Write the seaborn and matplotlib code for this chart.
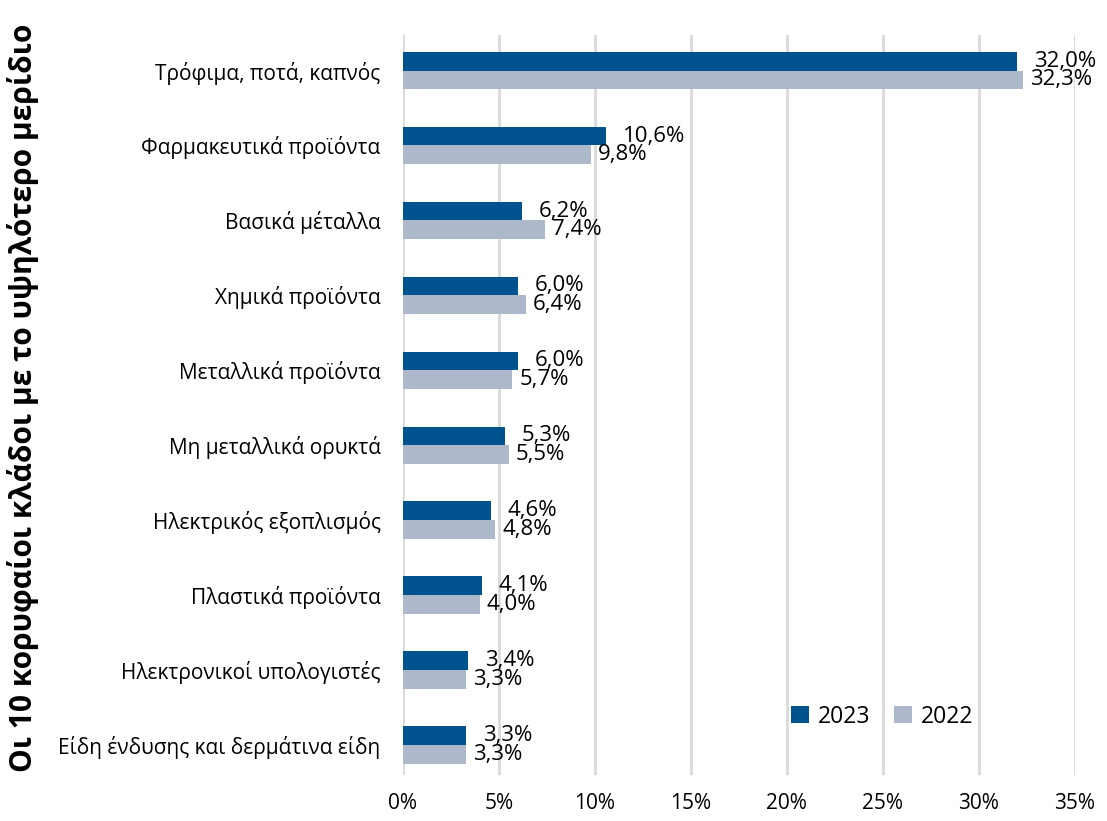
import pandas as pd
import numpy as np
import matplotlib
matplotlib.use("Agg")
import matplotlib.pyplot as plt
import seaborn as sns

categories = [
    "Τρόφιμα, ποτά, καπνός",
    "Φαρμακευτικά προϊόντα",
    "Βασικά μέταλλα",
    "Χημικά προϊόντα",
    "Μεταλλικά προϊόντα",
    "Μη μεταλλικά ορυκτά",
    "Ηλεκτρικός εξοπλισμός",
    "Πλαστικά προϊόντα",
    "Ηλεκτρονικοί υπολογιστές",
    "Είδη ένδυσης και δερμάτινα είδη",
]
share_2023 = [32.0, 10.6, 6.2, 6.0, 6.0, 5.3, 4.6, 4.1, 3.4, 3.3]
share_2022 = [32.3, 9.8, 7.4, 6.4, 5.7, 5.5, 4.8, 4.0, 3.3, 3.3]
years = ["2023", "2022"]
colors = ["#00538F", "#ADB9CA"]

df = pd.DataFrame({
    "category": categories * 2,
    "share": share_2023 + share_2022,
    "year": [years[0]] * len(categories) + [years[1]] * len(categories),
})

sns.set_style("white")
plt.rcParams['font.family'] = ['Open Sans', 'DejaVu Sans']
plt.rcParams['text.color'] = 'black'
plt.rcParams['xtick.color'] = 'black'
plt.rcParams['ytick.color'] = 'black'

fig = plt.figure(figsize=(11.07, 8.21), dpi=100)
ax = fig.add_axes([0.364, 0.056, 0.607, 0.901])

sns.barplot(data=df, y="category", x="share", hue="year", orient="h",
            palette=colors, width=0.5, gap=0, ax=ax, saturation=1, linewidth=0)

# 2023 labels a bit further out, 2022 labels close to the bar (as in the original)
for cont, pad in zip(ax.containers, [12, 5]):
    ax.bar_label(cont, labels=[f"{v:.1f}%".replace(".", ",") for v in cont.datavalues],
                 padding=pad, fontsize=16)

ax.set_xlim(0, 35)
ax.set_ylim(9.4, -0.47)
ax.set_xticks(np.arange(0, 36, 5))
ax.set_xticklabels([f"{t}%" for t in range(0, 36, 5)], fontsize=15)
ax.tick_params(axis="y", labelsize=15, length=0, pad=16)
ax.tick_params(axis="x", length=0, pad=13)
ax.xaxis.grid(True, color="#D9D9D9", linewidth=2)
ax.set_axisbelow(True)
for s in ax.spines.values():
    s.set_visible(False)
ax.set_xlabel("")
ax.set_ylabel("")
fig.text(0.021, 0.515, "Οι 10 κορυφαίοι κλάδοι με το υψηλότερο μερίδιο", rotation=90,
         va="center", ha="center", fontsize=21.5, fontweight="bold")

ax.legend(loc="lower right", bbox_to_anchor=(0.88, 0.035), ncol=2, frameon=False,
          fontsize=16.5, handlelength=0.8, handleheight=0.8, handletextpad=0.4,
          columnspacing=1.0)

fig.savefig("out.png", dpi=100)
